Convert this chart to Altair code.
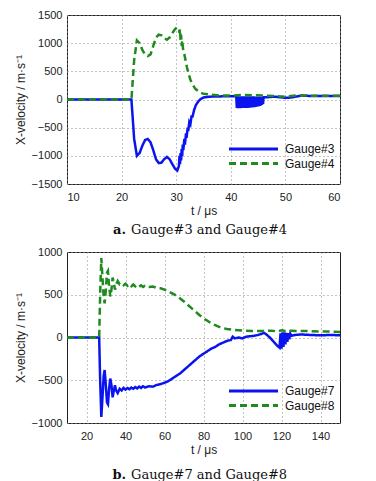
import altair as alt
import pandas as pd

# ---- Panel a: Gauge#3 / Gauge#4 ----
t3 = [10, 21.8, 22.3, 22.8, 23.3, 23.8, 24.3, 24.8, 25.3, 25.8, 26.3, 26.8, 27.3, 27.8, 28.3,
      28.8, 29.3, 29.8, 30.2, 30.5, 30.6, 30.7, 30.8, 30.9, 31.0, 31.1, 31.2, 31.3, 31.5, 31.6,
      31.8, 31.9, 32.1, 32.2, 32.4, 32.6, 32.8, 33.0, 33.3, 33.6, 34.0, 34.5, 35.0, 36.0, 38.0,
      40.0, 41.0, 41.1, 41.2, 41.3, 41.4, 41.5, 41.6, 41.7, 41.8, 41.9, 42.0, 42.1, 42.2, 42.3,
      42.4, 42.5, 42.6, 42.7, 42.8, 42.9, 43.0, 43.1, 43.2, 43.3, 43.4, 43.5, 43.6, 43.7, 43.8,
      43.9, 44.0, 44.1, 44.2, 44.3, 44.4, 44.5, 44.6, 44.7, 44.8, 44.9, 45.0, 45.1, 45.2, 45.3,
      45.4, 45.5, 45.6, 45.7, 45.8, 45.9, 46.0, 46.5, 48.0, 50.0, 51.0, 53.0, 55.0, 60.0]
v3 = [0, 0, -700, -1000, -950, -820, -720, -700, -760, -900, -1060, -1130, -1120, -1060, -1020,
      -1060, -1150, -1230, -1260, -1180, -1000, -1150, -950, -1080, -880, -1000, -800, -900, -700, -800,
      -600, -680, -500, -560, -400, -440, -300, -300, -180, -100, -40, 10, 35, 50, 55,
      60, 55, -150, 55, -155, 55, -150, 55, -155, 55, -150, 55, -152, 55, -150,
      55, -152, 55, -150, 55, -150, 55, -148, 55, -147, 55, -145, 55, -143, 55,
      -140, 55, -138, 55, -135, 52, -132, 50, -128, 50, -124, 50, -120, 50, -112,
      48, -104, 46, -95, 45, -80, 40, 40, 50, 30, 35, 70, 60, 60]

t4 = [10, 21.8, 22.3, 22.8, 23.3, 23.8, 24.3, 24.8, 25.3, 25.8, 26.3, 26.8, 27.3, 27.8, 28.3,
      28.8, 29.3, 29.8, 30.2, 30.5, 30.6, 30.7, 30.8, 30.9, 31.0, 31.1, 31.3, 31.5, 31.8, 32.0,
      32.3, 32.6, 33.0, 33.5, 34.0, 34.5, 35.0, 36.0, 37.0, 38.0, 40.0, 42.0, 44.0, 46.0, 48.0,
      50.0, 52.0, 54.0, 56.0, 60.0]
v4 = [0, 0, 700, 1050, 1000, 880, 800, 770, 800, 950, 1100, 1150, 1140, 1090, 1060,
      1100, 1180, 1250, 1280, 1260, 1180, 1250, 1050, 1150, 950, 1050, 850, 800, 650, 560,
      450, 350, 270, 190, 150, 120, 100, 90, 80, 70, 70, 80, 75, 70, 60,
      50, 70, 70, 65, 65]

# ---- Panel b: Gauge#7 / Gauge#8 ----
t7 = [10, 26.5, 27.0, 27.6, 28.2, 28.8, 29.3, 29.8, 30.5, 31.0, 31.6, 32.2, 32.8, 33.4, 34.0,
      34.6, 35.2, 36, 37, 38, 39, 40, 41, 42, 43, 44, 45, 46, 47, 48,
      49, 50, 52, 54, 56, 58, 60, 62, 64, 66, 68, 70, 72, 74, 76,
      78, 80, 82, 84, 86, 88, 90, 92, 94, 95, 96, 98, 100, 102, 104,
      106, 108, 110, 111, 112, 114, 116, 118, 119, 119.5, 120, 120.5, 121, 121.5, 122,
      122.5, 123, 123.5, 124, 124.5, 125, 127, 130, 135, 140, 145, 150]
v7 = [0, 0, -500, -930, -700, -450, -380, -520, -760, -780, -600, -480, -560, -700, -620,
      -560, -620, -650, -600, -620, -590, -610, -590, -605, -585, -600, -580, -595, -575, -590,
      -570, -585, -570, -575, -555, -545, -530, -510, -480, -450, -420, -380, -340, -300, -260,
      -220, -190, -160, -130, -110, -80, -60, -40, -30, 10, -10, 0, -10, 10, 15,
      20, 30, 45, 55, 40, 0, -50, -100, -120, 50, -130, 60, -110, 60, -80,
      55, -50, 50, -20, 45, 20, 30, 35, 30, 25, 30, 25]

t8 = [10, 26.5, 27.0, 27.6, 28.2, 28.8, 29.3, 29.8, 30.5, 31.0, 31.6, 32.2, 32.8, 33.4, 34.0,
      34.6, 35.2, 36, 37, 38, 39, 40, 41, 42, 43, 44, 45, 46, 47, 48,
      49, 50, 52, 54, 56, 58, 60, 62, 64, 66, 68, 70, 72, 74, 76,
      78, 80, 82, 84, 86, 88, 90, 92, 95, 98, 100, 105, 110, 115, 118,
      120, 122, 125, 130, 135, 140, 145, 150]
v8 = [0, 0, 500, 930, 700, 480, 400, 520, 760, 780, 600, 480, 560, 700, 640,
      560, 620, 660, 620, 630, 610, 630, 605, 625, 600, 620, 598, 615, 595, 610,
      592, 605, 590, 595, 580, 575, 560, 540, 515, 490, 455, 420, 380, 340, 300,
      260, 225, 195, 165, 145, 125, 110, 100, 90, 85, 80, 75, 75, 80, 70,
      85, 75, 80, 75, 75, 70, 70, 65]

BLUE = "#0a14f0"
GREEN = "#1f8a1f"
SANS = "Liberation Sans"
SERIF = "DejaVu Serif"
W = 273


def panel(ta, va, tb, vb, names, xdom, xticks, ydom, yticks, letter, caption, H, cap_dy, leg_y):
    df = pd.concat([
        pd.DataFrame({"t": ta, "v": va, "series": names[0]}),
        pd.DataFrame({"t": tb, "v": vb, "series": names[1]}),
    ])
    lines = alt.Chart(df).mark_line(strokeWidth=2.5, clip=True).encode(
        x=alt.X("t:Q", scale=alt.Scale(domain=xdom, nice=False),
                axis=alt.Axis(values=xticks, title="t / μs", format="d")),
        y=alt.Y("v:Q", scale=alt.Scale(domain=ydom, nice=False),
                axis=alt.Axis(values=yticks, title="X-velocity / m·s⁻¹", format="d")),
        color=alt.Color("series:N", scale=alt.Scale(domain=names, range=[BLUE, GREEN]),
                        legend=None),
        strokeDash=alt.StrokeDash("series:N",
                                  scale=alt.Scale(domain=names, range=[[1, 0], [7, 4]]),
                                  legend=None),
        order=alt.Order("t:Q"),
    )
    layers = [lines]
    # legend (drawn inside the plot, bottom right)
    for i, (name, col, dash) in enumerate(zip(names, [BLUE, GREEN], [[1, 0], [7, 4]])):
        d = pd.DataFrame({"s": [name]})
        y = leg_y + i * 14.5
        layers.append(alt.Chart(d).mark_rule(strokeWidth=2.8, strokeDash=dash, color=col).encode(
            x=alt.value(162), x2=alt.value(211), y=alt.value(y)))
        layers.append(alt.Chart(d).mark_text(font=SANS, fontSize=12, align="left",
                                             baseline="middle", color="#111").encode(
            text="s:N", x=alt.value(218), y=alt.value(y)))
    layers.append(alt.Chart(pd.DataFrame({"s": [letter]})).mark_text(
        font=SERIF, fontSize=13, fontWeight="bold", align="right", color="#111"
    ).encode(text="s:N", x=alt.value(59), y=alt.value(H + cap_dy)))
    layers.append(alt.Chart(pd.DataFrame({"s": [caption]})).mark_text(
        font=SERIF, fontSize=13, align="left", color="#111"
    ).encode(text="s:N", x=alt.value(64), y=alt.value(H + cap_dy)))
    return alt.layer(*layers).properties(width=W, height=H)


top = panel(t3, v3, t4, v4, ["Gauge#3", "Gauge#4"], [10, 60], [10, 20, 30, 40, 50, 60],
            [-1500, 1500], [-1500, -1000, -500, 0, 500, 1000, 1500],
            "a.", "Gauge#3 and Gauge#4", 169, 46, 134)
bottom = panel(t7, v7, t8, v8, ["Gauge#7", "Gauge#8"], [10, 150], [20, 40, 60, 80, 100, 120, 140],
               [-1000, 1000], [-1000, -500, 0, 500, 1000],
               "b.", "Gauge#7 and Gauge#8", 171, 52, 139)

chart = alt.vconcat(top, bottom, spacing=7, background="white",
                    padding={"left": 5, "right": 5, "top": 0, "bottom": 0}).resolve_scale(
    color="independent", strokeDash="independent"
).configure_view(
    stroke="#222", strokeWidth=1
).configure_axis(
    grid=True, gridColor="#888", gridDash=[1, 3], gridWidth=1,
    domain=False, ticks=False, labelPadding=5,
    labelFont=SANS, labelFontSize=11, labelColor="#222",
    titleFont=SANS, titleFontSize=12, titleFontWeight="normal", titleColor="#222",
).configure_axisX(labelPadding=7, titlePadding=3)

chart.save("out.html", embed_options={"renderer": "svg", "actions": False})
